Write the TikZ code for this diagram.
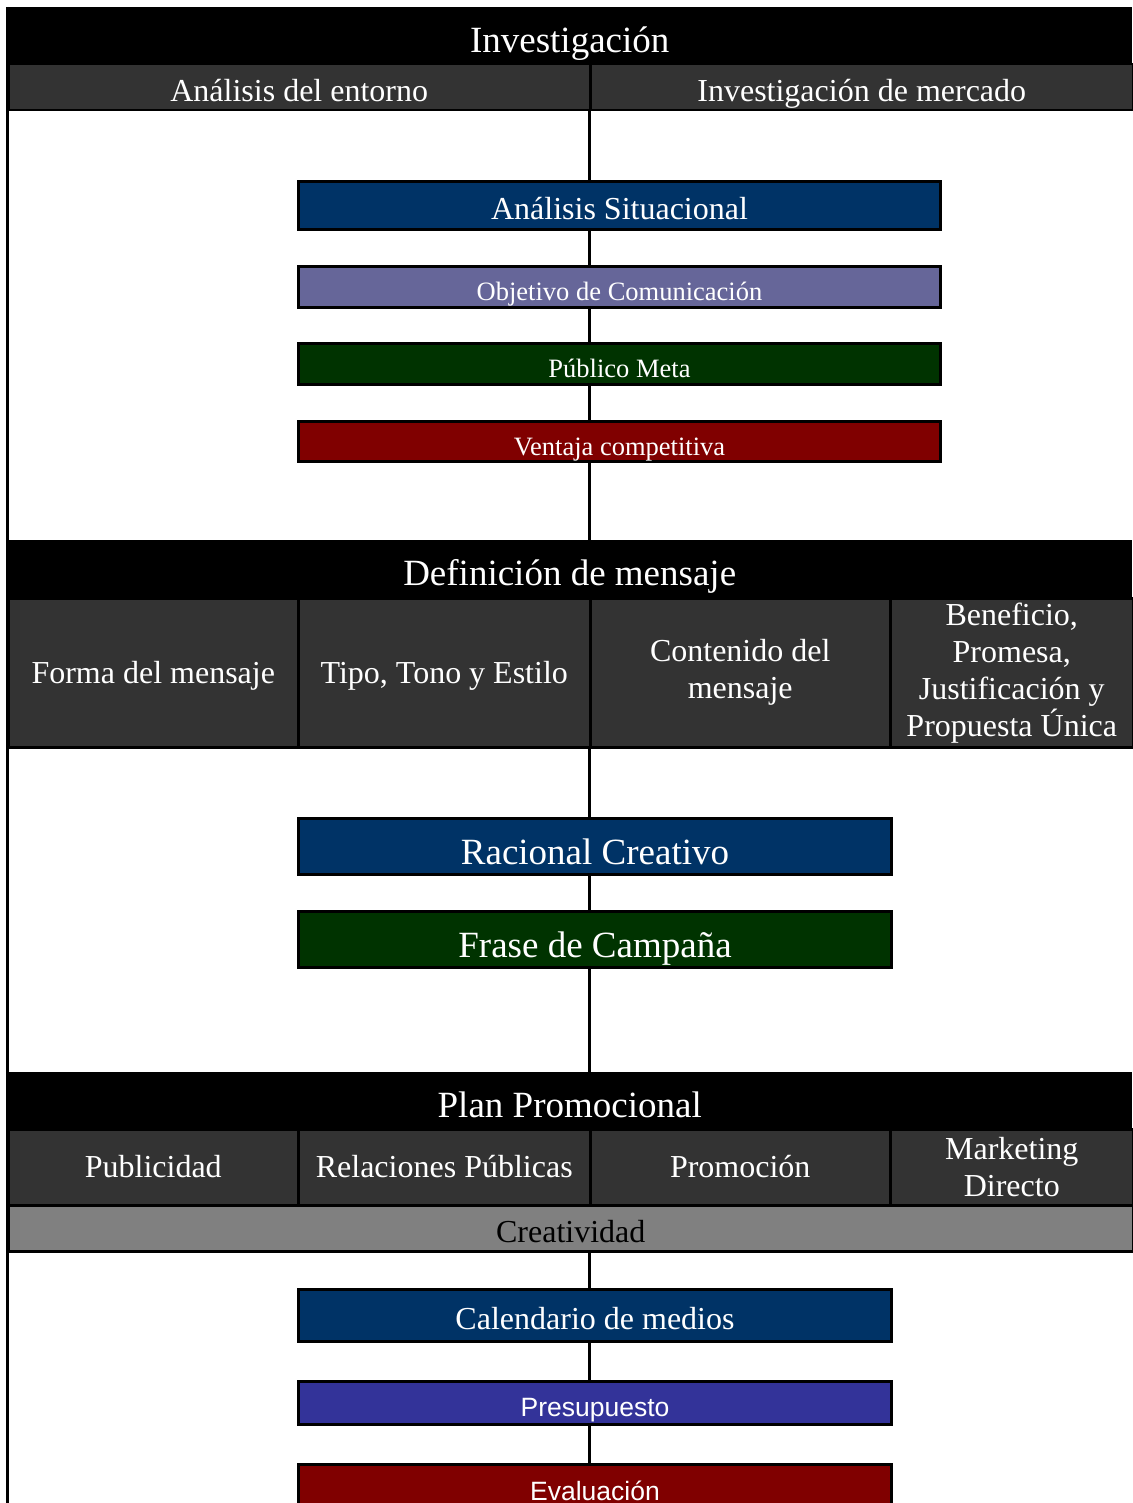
\documentclass[tikz,border=0pt]{standalone}
\usepackage{fontspec}
\setmainfont{Liberation Serif}
\newfontfamily\arialfont{Liberation Sans}
\usetikzlibrary{positioning}
\definecolor{cell-gray}{HTML}{333333}
\definecolor{crea-gray}{HTML}{808080}
\definecolor{plan-navy}{HTML}{003366}
\definecolor{plan-lavender}{HTML}{666699}
\definecolor{plan-green}{HTML}{003300}
\definecolor{plan-maroon}{HTML}{800000}
\definecolor{plan-indigo}{HTML}{333399}

\begin{document}
\begin{tikzpicture}[x=1pt, y=-1pt,
  big/.style={font=\fontsize{37}{42}\selectfont, text height=35pt, text depth=0pt},
  mid/.style={font=\fontsize{32}{37}\selectfont, text height=28pt, text depth=0pt},
  small/.style={font=\fontsize{26.5}{31}\selectfont, text height=27pt, text depth=0pt},
  sans/.style={font=\arialfont\fontsize{26.5}{31}\selectfont, text height=27pt, text depth=0pt},
  low/.style={text height=21pt, text depth=0pt},
  lines/.style={text height=, text depth=},
  band/.style={fill=black, text=white, inner sep=0pt, anchor=north west, align=center, big},
  cell/.style={fill=cell-gray, draw=black, line width=2.5pt, text=white, inner sep=0pt, anchor=north west, align=center, mid},
  box/.style={draw=black, line width=3pt, text=white, inner sep=0pt, anchor=north west},
  spine/.style={line width=3pt}]
\useasboundingbox (0,0) rectangle (1132,1503);
\coordinate (sp) at (589,0);
\coordinate (frame-top) at (7.5,7);
\coordinate (frame-bot) at (7.5,1503);
\draw[line width=3pt] (frame-top) -- (frame-bot);
% section headers
\foreach \name/\y/\txt in {
    inv/7/Investigación,
    def/540/Definición de mensaje,
    plan/1072/Plan Promocional} {
  \node[band, minimum width=1125, minimum height=56.5]
    (\name)
    at (7,\y)
    {\txt};
}
% first row
\node[cell, minimum width=582, minimum height=46] (ent) at (7,63) {Análisis del entorno};
\node[cell, minimum width=543, minimum height=46] (mer) at (589,63) {Investigación de mercado};
% rows with four cells
\foreach \name/\x/\w/\st/\txt in {
    forma/7/290/low/{Forma del mensaje},
    tipo/297/292/low/{Tipo, Tono y Estilo},
    cont/589/300/lines/{Contenido del\\mensaje},
    benef/889/243/lines/{Beneficio,\\Promesa,\\Justificación y\\Propuesta Única}} {
  \node[cell, \st, minimum width=\w, minimum height=149]
    (\name)
    at (\x,597)
    {\txt};
}
\foreach \name/\x/\w/\st/\txt in {
    publ/7/290/low/{Publicidad},
    rel/297/292/low/{Relaciones Públicas},
    promo/589/300/low/{Promoción},
    mkt/889/243/lines/{Marketing\\Directo}} {
  \node[cell, \st, minimum width=\w, minimum height=76]
    (\name)
    at (\x,1128)
    {\txt};
}
\node[cell, fill=crea-gray, text=black, minimum width=1125, minimum height=46]
  (crea)
  at (7,1204)
  {Creatividad};
% coloured steps
\foreach \name/\y/\w/\h/\col/\sz/\txt in {
    sit/180/642/48/plan-navy/mid/Análisis Situacional,
    obj/265/642/41/plan-lavender/small/Objetivo de Comunicación,
    pub/342/642/41/plan-green/small/Público Meta,
    vent/420/642/40/plan-maroon/small/Ventaja competitiva,
    rac/817/593/56/plan-navy/big/Racional Creativo,
    frase/910/593/56/plan-green/big/Frase de Campaña,
    cal/1288/593/52/plan-navy/mid/Calendario de medios,
    pres/1380/593/43/plan-indigo/sans/Presupuesto,
    eval/1463/593/44/plan-maroon/sans/Evaluación} {
  \node[box, \sz, fill=\col, minimum width=\w, minimum height=\h]
    (\name)
    at (297,\y)
    {\txt};
}
\foreach \a/\b in {ent/sit, sit/obj, obj/pub, pub/vent, vent/def,
    forma/rac, rac/frase, frase/plan, crea/cal, cal/pres, pres/eval}
  \draw[spine] (\a.south -| sp) -- (\b.north -| sp);
\end{tikzpicture}
\end{document}
